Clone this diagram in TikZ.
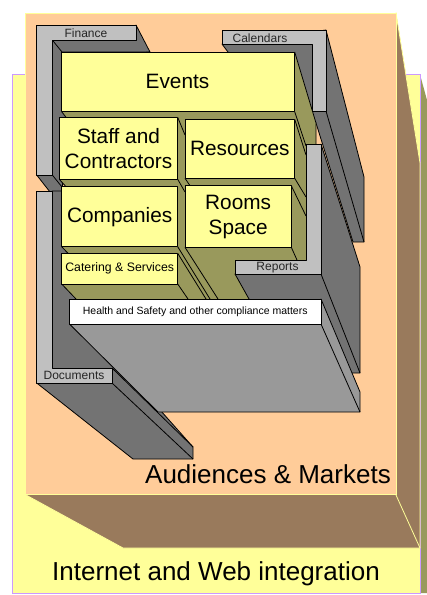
\documentclass[tikz,border=0pt]{standalone}
\usepackage{fontspec}
\setmainfont{Liberation Sans}
\definecolor{peach}{HTML}{FFCC99}
\definecolor{paleyel}{HTML}{FFFF99}
\definecolor{brownface}{HTML}{997A5C}
\definecolor{oliveface}{HTML}{99995C}
\definecolor{darkface}{HTML}{737373}
\definecolor{lightface}{HTML}{C0C0C0}
\definecolor{midface}{HTML}{999999}
\definecolor{purpleline}{HTML}{CC99FF}
\newcommand{\fs}[1]{\fontsize{#1}{25}\selectfont}
\tikzset{
  edge/.style={draw=black,line width=0.8pt,line join=round},
  dk/.style={edge,fill=darkface},
  lt/.style={edge,fill=lightface},
  mid/.style={edge,fill=midface},
  card/.style={edge,fill=paleyel,inner sep=0pt,outer sep=0pt,align=center,font=\fs{20.8}},
  plainlabel/.style={inner sep=0pt,text=black!85,font=\fs{12}},
  biglabel/.style={inner sep=0pt,text=black,font=\fs{26}},
}
\begin{document}
\begin{tikzpicture}[x=1pt,y=-1pt]
\useasboundingbox (0,0) rectangle (427,595);
% outer slab
\fill[oliveface] (420,74.5) -- (427,100) -- (427,593) -- (420,593) -- cycle;
\draw[draw=purpleline,fill=paleyel,line width=0.8pt] (12.5,74.5) rectangle (420,593);
% middle slab
\draw[draw=paleyel,fill=brownface,line width=0.8pt] (396,13) -- (420,163) -- (420,548) -- (123,548) -- (26,495) -- cycle;
\draw[draw=paleyel,line width=0.8pt] (396,495) -- (420,548);
\draw[draw=paleyel,fill=peach,line width=0.8pt] (25.5,13) rectangle (396,494.5);
% Calendars
\draw[dk] (222,44) -- (228,52) -- (316,123) -- (353,242) -- (364,242) -- (364,177) -- (326,30) -- cycle;
\draw[edge] (326,111) -- (364,242);
\draw[edge] (312,111) -- (326,111);
\draw[lt] (222,30) -- (326,30) -- (326,111) -- (312,111) -- (312,44) -- (222,44) -- cycle;
% Finance
\draw[dk] (52.3,40) -- (136,40) -- (136,25) -- (150,52) -- (70,60) -- (62,192) -- (50,192) -- (36.7,175) -- (52.3,175) -- cycle;
\draw[edge] (52.3,40) -- (62,52) -- (150,52);
\draw[edge] (52.3,175) -- (62,187);
\draw[lt] (36.7,25) -- (136,25) -- (136,40) -- (52.3,40) -- (52.3,175) -- (36.7,175) -- cycle;
% Documents
\draw[dk] (52.3,191) -- (80,191) -- (80,320) -- (193,447) -- (193,459) -- (133,459) -- (36.7,383) -- (36.7,368) -- (52.3,368) -- cycle;
\draw[edge] (112,368) -- (193,447);
\draw[edge] (112,383) -- (193,459);
\draw[lt] (36.7,191) -- (52.3,191) -- (52.3,368) -- (112,368) -- (112,383) -- (36.7,383) -- cycle;
% olive extrusions
\fill[oliveface] (61.7,111.7) -- (294.7,111.7) -- (294.7,52) -- (316,123) -- (316,275) -- (249,299) -- (76,299)
  -- (61.7,284) -- (61.7,253.3) -- (68,253.3) -- (61.7,246.7) -- (61.7,187) -- (66,186.7) -- (59.3,179.3) -- (59.3,117.3) -- (66,117.3) -- cycle;
\draw[edge] (294.7,52) -- (316,123) -- (316,144);
\draw[edge] (61.7,111.7) -- (66,117.3);
\draw[edge] (294.7,111.7) -- (306,146);
\draw[edge] (294.7,119.3) -- (306,155);
\draw[edge] (294.7,178.3) -- (306,197);
\draw[edge] (291.3,185.7) -- (306,216);
\draw[edge] (177.7,117.3) -- (185,135);
\draw[edge] (177.7,179.3) -- (185,192);
\draw[edge] (59.3,179.3) -- (66,186.7);
\draw[edge] (185,178.3) -- (190,185.7);
\draw[edge] (177.7,246.7) -- (210,299);
\draw[edge] (177.7,253.3) -- (206,299);
\draw[edge] (185,247.3) -- (218,299);
\draw[edge] (61.7,246.7) -- (68,253.3);
\draw[edge] (61.7,284) -- (76,299);
\draw[edge] (177.7,284) -- (188,299);
\draw[edge] (291.3,247.3) -- (297,260);
% cards
\node[card,minimum width=233pt,minimum height=59.7pt] (events) at (177.5,81.85) {Events};
\node[card,minimum width=118.4pt,minimum height=62pt] (staff) at (118.5,148.3) {Staff and\\Contractors};
\node[card,minimum width=109.7pt,minimum height=59pt] (resources) at (239.85,148.8) {Resources};
\node[card,minimum width=116pt,minimum height=60pt] (companies) at (119.7,216.7) {Companies};
\node[card,minimum width=106.3pt,minimum height=61.6pt] (rooms) at (238.15,216.5) {Rooms\\Space};
\node[card,minimum width=116pt,minimum height=30.7pt,font=\fs{12.3}] (catering) at (119.7,268.65) {Catering \& Services};
% Reports
\draw[dk] (321,144) -- (360,267) -- (360,373) -- (340,373) -- (249,299) -- (235,274) -- (321,274) -- cycle;
\draw[edge] (321,274) -- (360,373);
\draw[lt] (306,144) -- (321,144) -- (321,274) -- (235,274) -- (235,260) -- (306,260) -- cycle;
% Health
\draw[mid] (321,299) -- (360,392) -- (360,412) -- (158,412) -- (69.5,324) -- (321,324) -- cycle;
\draw[edge] (321,324) -- (360,412);
\node[edge,fill=white,inner sep=0pt,outer sep=0pt,minimum width=251.5pt,minimum height=25pt,font=\fs{10.5}] (health) at (195.25,311.5) {Health and Safety and other compliance matters};
% labels
\node[plainlabel] (finance) at (86,33.5) {Finance};
\node[plainlabel] (calendars) at (260,38.5) {Calendars};
\node[plainlabel] (reports) at (277.5,267.5) {Reports};
\node[plainlabel] (documents) at (74,375) {Documents};
\node[biglabel] (aud) at (268,474) {Audiences \& Markets};
\node[biglabel] (web) at (216,574) {Internet and Web integration};
\end{tikzpicture}
\end{document}
